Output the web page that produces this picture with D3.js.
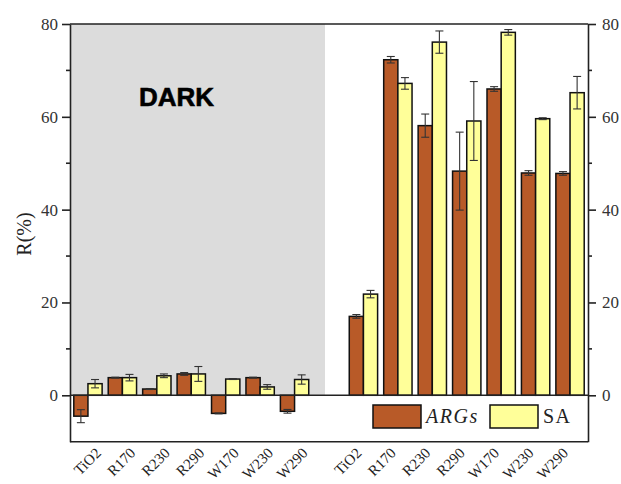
<!DOCTYPE html>
<meta charset='utf-8'>
<style>
body { margin: 0; background: #fff; }
text { font-family: 'Liberation Serif', 'Times New Roman', serif; fill: #222; }
.axis path, .axis line { stroke: #222; stroke-width: 1.6px; }
.axis text { font-size: 17px; font-family: 'Liberation Serif', serif; fill: #333; }
</style>
<svg id='chart' width='621' height='484'></svg>
<script src="https://d3js.org/d3.v7.min.js"></script>
<script>
// categories and series
const categories = ['TiO2', 'R170', 'R230', 'R290', 'W170', 'W230', 'W290'];
const series = ['ARGs', 'SA'];
const darkArgs    = [-4.5, 3.8, 1.35, 4.6, -3.9, 3.8, -3.45];
const darkArgsErr = [1.4, 0.1, 0.1, 0.3, 0.1, 0.1, 0.4];
const darkSa      = [2.5, 3.8, 4.2, 4.6, 3.5, 1.8, 3.4];
const darkSaErr   = [0.9, 0.7, 0.4, 1.6, 0.1, 0.5, 1.0];
const lightArgs    = [17.0, 72.3, 58.1, 48.3, 66.0, 47.9, 47.8];
const lightArgsErr = [0.4, 0.7, 2.5, 8.4, 0.5, 0.5, 0.4];
const lightSa      = [21.8, 67.2, 76.1, 59.1, 78.2, 59.6, 65.2];
const lightSaErr   = [0.8, 1.25, 2.4, 8.5, 0.6, 0.2, 3.5];
const majorTicks = [0, 20, 40, 60, 80];
const minorTicks = [10, 30, 50, 70];

const colors = { ARGs: '#b85a28', SA: '#ffff99' };

const plotLeft = 70, plotRight = 588, plotTop = 24, plotBottom = 441.7;

// slots: 7 dark, one empty, 7 light
const slots = categories.map(c => 'D-' + c).concat(['gap'], categories.map(c => 'L-' + c));

const x = d3.scaleBand().domain(slots).range([plotLeft, plotRight])
  .paddingInner(0.177).paddingOuter(0.11);
const xs = d3.scaleBand().domain(series).range([0, x.bandwidth()]);
const y = d3.scaleLinear().domain([-10, 80]).range([plotBottom, plotTop]);

const rows = [];
categories.forEach((c, i) => {
  rows.push({ slot: 'D-' + c, s: 'ARGs', v: darkArgs[i], e: darkArgsErr[i] });
  rows.push({ slot: 'D-' + c, s: 'SA', v: darkSa[i], e: darkSaErr[i] });
  rows.push({ slot: 'L-' + c, s: 'ARGs', v: lightArgs[i], e: lightArgsErr[i] });
  rows.push({ slot: 'L-' + c, s: 'SA', v: lightSa[i], e: lightSaErr[i] });
});

const svg = d3.select('#chart');

// dark background
svg.append('rect')
  .attr('x', plotLeft).attr('y', y(80))
  .attr('width', 325 - plotLeft).attr('height', y(0) - y(80))
  .attr('fill', '#dcdcdc');

svg.append('text')
  .attr('x', 139).attr('y', 106)
  .style('font-family', "'Liberation Sans', Arial, sans-serif")
  .style('font-weight', 'bold')
  .style('font-size', '26px')
  .style('fill', '#000')
  .style('stroke', '#000')
  .style('stroke-width', '0.6px')
  .text('DARK');

// bars
svg.append('g').selectAll('rect')
  .data(rows).join('rect')
  .attr('x', d => x(d.slot) + xs(d.s))
  .attr('y', d => y(Math.max(0, d.v)))
  .attr('width', xs.bandwidth())
  .attr('height', d => Math.abs(y(d.v) - y(0)))
  .attr('fill', d => colors[d.s])
  .attr('stroke', '#111')
  .attr('stroke-width', 1.5);

// error bars
const err = svg.append('g').attr('stroke', '#333').attr('stroke-width', 1.1);
rows.forEach(d => {
  const cx = x(d.slot) + xs(d.s) + xs.bandwidth() / 2;
  const y1 = y(d.v + d.e), y2 = y(d.v - d.e);
  err.append('line').attr('x1', cx).attr('x2', cx).attr('y1', y1).attr('y2', y2);
  err.append('line').attr('x1', cx - 4).attr('x2', cx + 4).attr('y1', y1).attr('y2', y1);
  err.append('line').attr('x1', cx - 4).attr('x2', cx + 4).attr('y1', y2).attr('y2', y2);
});

// zero line, top and bottom frame
[0, 80, -10].forEach(v => {
  svg.append('line')
    .attr('x1', plotLeft).attr('x2', plotRight)
    .attr('y1', y(v)).attr('y2', y(v))
    .attr('stroke', '#222').attr('stroke-width', 1.6);
});

// left axis
const gl = svg.append('g').attr('class', 'axis')
  .attr('transform', `translate(${plotLeft},0)`)
  .call(d3.axisLeft(y).tickValues(majorTicks).tickSize(8).tickSizeOuter(0).tickPadding(4))
  .attr('font-family', "'Liberation Serif', serif").attr('font-size', 17);
gl.append('g').selectAll('line').data(minorTicks).join('line')
  .attr('x1', -4).attr('x2', 0).attr('y1', d => y(d)).attr('y2', d => y(d));

// right axis
const gr = svg.append('g').attr('class', 'axis')
  .attr('transform', `translate(${plotRight},0)`)
  .call(d3.axisRight(y).tickValues(majorTicks).tickSize(8).tickSizeOuter(0).tickPadding(6))
  .attr('font-family', "'Liberation Serif', serif").attr('font-size', 17);
gr.append('g').selectAll('line').data(minorTicks).join('line')
  .attr('x1', 0).attr('x2', 4).attr('y1', d => y(d)).attr('y2', d => y(d));

// category labels
const labels = svg.append('g');
slots.filter(s => s !== 'gap').forEach(s => {
  const off = s.startsWith('D') ? 14 : -1;
  const cx = x(s) + x.bandwidth() / 2 + off;
  labels.append('text')
    .attr('transform', `translate(${cx},454) rotate(-45)`)
    .attr('text-anchor', 'end')
    .style('font-size', '15px')
    .text(s.slice(2));
});

// y label
svg.append('text')
  .attr('transform', 'translate(31,234) rotate(-90)')
  .attr('text-anchor', 'middle')
  .style('font-size', '20px')
  .text('R(%)');

// legend
const legend = [
  { s: 'ARGs', x: 373, italic: true },
  { s: 'SA', x: 490, italic: false }
];
legend.forEach(l => {
  svg.append('rect')
    .attr('x', l.x).attr('y', 405).attr('width', 48).attr('height', 23)
    .attr('fill', colors[l.s]).attr('stroke', '#111').attr('stroke-width', 1.5);
  svg.append('text')
    .attr('x', l.x + 53).attr('y', 423)
    .style('font-size', '20px')
    .style('letter-spacing', '1.5px')
    .style('font-style', l.italic ? 'italic' : 'normal')
    .text(l.s);
});
</script>
